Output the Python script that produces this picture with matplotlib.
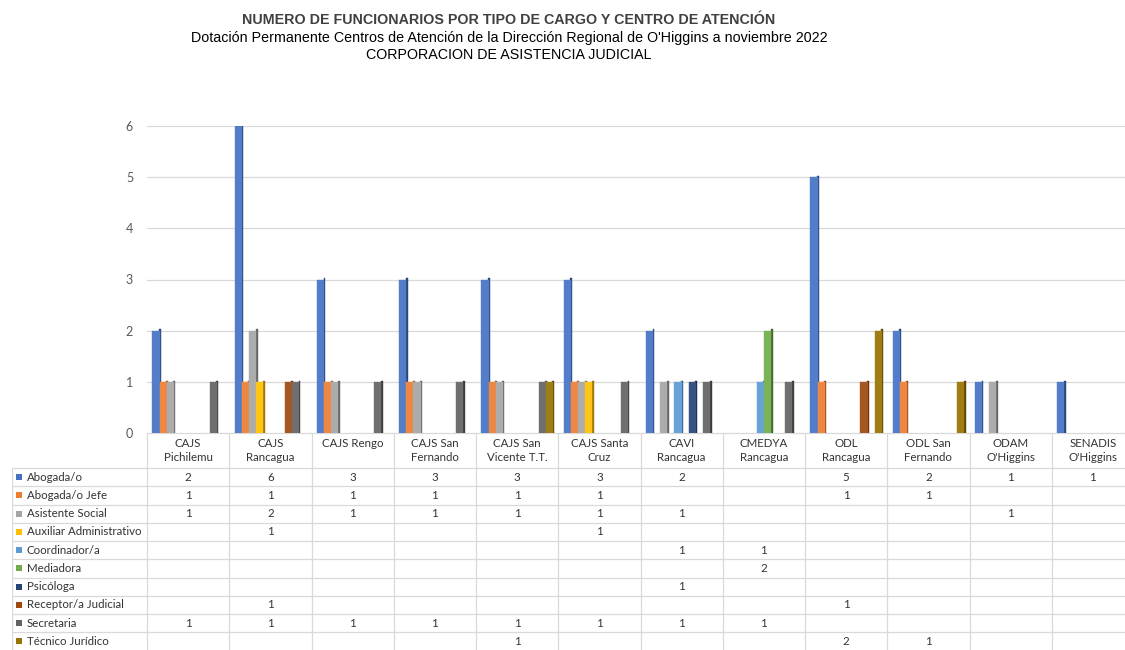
import numpy as np
import matplotlib
matplotlib.use("Agg")
import matplotlib.pyplot as plt
from matplotlib.colors import to_rgb

nan = np.nan

# =========================
# Data
# =========================

centros = [
    "CAJS\nPichilemu", "CAJS\nRancagua", "CAJS Rengo", "CAJS San\nFernando",
    "CAJS San\nVicente T.T.", "CAJS Santa\nCruz", "CAVI\nRancagua",
    "CMEDYA\nRancagua", "ODL\nRancagua", "ODL San\nFernando",
    "ODAM\nO'Higgins", "SENADIS\nO'Higgins",
]

cargos = [
    "Abogada/o", "Abogada/o Jefe", "Asistente Social", "Auxiliar Administrativo",
    "Coordinador/a", "Mediadora", "Psicóloga", "Receptor/a Judicial",
    "Secretaria", "Técnico Jurídico",
]

abogado = [2, 6, 3, 3, 3, 3, 2, nan, 5, 2, 1, 1]
abogado_jefe = [1, 1, 1, 1, 1, 1, nan, nan, 1, 1, nan, nan]
asistente_social = [1, 2, 1, 1, 1, 1, 1, nan, nan, nan, 1, nan]
auxiliar_adm = [nan, 1, nan, nan, nan, 1, nan, nan, nan, nan, nan, nan]
coordinador = [nan, nan, nan, nan, nan, nan, 1, 1, nan, nan, nan, nan]
mediadora = [nan, nan, nan, nan, nan, nan, nan, 2, nan, nan, nan, nan]
psicologa = [nan, nan, nan, nan, nan, nan, 1, nan, nan, nan, nan, nan]
receptor = [nan, 1, nan, nan, nan, nan, nan, nan, 1, nan, nan, nan]
secretaria = [1, 1, 1, 1, 1, 1, 1, 1, nan, nan, nan, nan]
tecnico_juridico = [nan, nan, nan, nan, 1, nan, nan, nan, 2, 1, nan, nan]

series = [abogado, abogado_jefe, asistente_social, auxiliar_adm, coordinador,
          mediadora, psicologa, receptor, secretaria, tecnico_juridico]

colores = ["#4472C4", "#ED7D31", "#A5A5A5", "#FFC000", "#5B9BD5",
           "#70AD47", "#264478", "#9E480E", "#636363", "#997300"]

yticks = [0, 1, 2, 3, 4, 5, 6]

plt.rcParams["font.family"] = ["Lato", "DejaVu Sans"]

W, H = 1125, 650
fig = plt.figure(figsize=(W / 100, H / 100), dpi=100)

# =========================
# Bars
# =========================

x_left, x_right = 147, 1134
y_base, y_top = 433, 126

ax = fig.add_axes([x_left / W, (H - y_base) / H,
                   (x_right - x_left) / W, (y_base - y_top) / H])

x = np.arange(len(centros))
slot = 0.087
side_w = 0.024


def darker(c, f=0.62):
    r, g, b = to_rgb(c)
    return (r * f, g * f, b * f)


def lighter(c, f=0.08):
    r, g, b = to_rgb(c)
    return (r + (1 - r) * f, g + (1 - g) * f, b + (1 - b) * f)


for i, (vals, col) in enumerate(zip(series, colores)):
    vals = np.array(vals, dtype=float)
    mask = ~np.isnan(vals)
    pos = x[mask] + (i - 4.5) * slot
    h = vals[mask]
    # side face (behind the front face, slightly raised for the 3D look)
    ax.bar(pos + slot / 2 + side_w / 2 - 0.006, h + 0.025, width=side_w,
           color=darker(col), edgecolor=darker(col), linewidth=0.3,
           zorder=3 + 2 * i)
    # front face
    ax.bar(pos, h, width=slot, color=lighter(col), edgecolor=lighter(col),
           linewidth=0.3, zorder=4 + 2 * i)

ax.set_xlim(-0.5, len(centros) - 0.5)
ax.set_ylim(0, 6)
ax.set_yticks(yticks)
ax.set_yticklabels([str(t) for t in yticks])
ax.set_xticks([])
ax.tick_params(axis="y", length=0, pad=10, labelsize=9, labelcolor="#595959")
ax.grid(axis="y", color="#d9d9d9", linewidth=0.9, zorder=0)
for s in ax.spines.values():
    s.set_visible(False)

# =========================
# Data table
# =========================

tab_left = 12
unit = (x_right - x_left) / len(centros)
legend_w = (x_left - tab_left) / unit
row_h = 18.25
head_h = (468 - y_base) / row_h
n_rows = len(cargos)
fs = 8.3

tx = fig.add_axes([tab_left / W, 0, (x_right - tab_left) / W, (H - y_base) / H])
tx.set_xlim(-0.5 - legend_w, len(centros) - 0.5)
tx.set_ylim((H - y_base) / row_h - head_h, -head_h)
tx.axis("off")

line_c = "#d9d9d9"
for k in range(n_rows + 1):
    tx.plot([-0.5 - legend_w, len(centros) - 0.5], [k, k], color=line_c, lw=0.9)
tx.plot([-0.5, len(centros) - 0.5], [-head_h, -head_h], color=line_c, lw=0.9)
for k in range(len(centros) + 1):
    tx.plot([k - 0.5, k - 0.5], [-head_h, n_rows], color=line_c, lw=0.9)
tx.plot([-0.5 - legend_w, -0.5 - legend_w], [0, n_rows], color=line_c, lw=0.9)

for j, name in enumerate(centros):
    tx.text(j, -head_h + 0.3, name, ha="center", va="top", fontsize=fs,
            color="#333333", linespacing=1.3)

for i, (cargo, vals, col) in enumerate(zip(cargos, series, colores)):
    tx.scatter([-0.5 - legend_w + 0.085], [i + 0.5], marker="s", s=22,
               color=col, linewidths=0)
    tx.text(-0.5 - legend_w + 0.18, i + 0.5, cargo, ha="left", va="center",
            fontsize=fs, color="#333333")
    for j, v in enumerate(vals):
        if not np.isnan(v):
            tx.text(j, i + 0.5, f"{int(v)}", ha="center", va="center",
                    fontsize=fs, color="#333333")

# =========================
# Titles
# =========================

tf = ["Liberation Sans", "DejaVu Sans"]
fig.text(509 / W, 1 - 20 / H,
         "NUMERO DE FUNCIONARIOS POR TIPO DE CARGO Y CENTRO DE ATENCIÓN",
         ha="center", va="center", fontsize=10.3, fontweight="bold",
         color="#404040", family=tf)
fig.text(509 / W, 1 - 38 / H,
         "Dotación Permanente Centros de Atención de la Dirección Regional de O'Higgins a noviembre 2022",
         ha="center", va="center", fontsize=10.3, color="black", family=tf)
fig.text(509 / W, 1 - 55 / H, "CORPORACION DE ASISTENCIA JUDICIAL",
         ha="center", va="center", fontsize=10.3, color="black", family=tf)

fig.savefig("out.png", dpi=100)
